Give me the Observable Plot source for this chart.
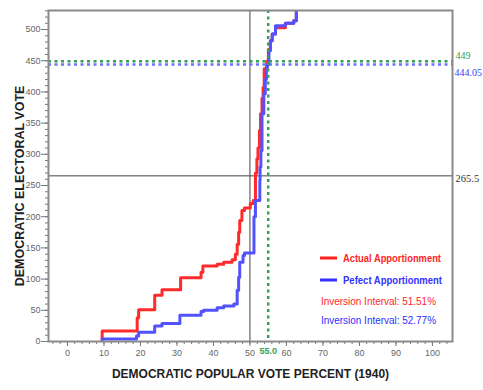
<!DOCTYPE html>
<html>
<head>
<meta charset="utf-8">
<script src="https://cdn.jsdelivr.net/npm/d3@7"></script>
<script src="https://cdn.jsdelivr.net/npm/@observablehq/plot@0.6"></script>
<style>
  html, body { margin: 0; padding: 0; background: #fff; }
  #chart { width: 483px; height: 390px; }
  #chart svg { overflow: visible; }
</style>
</head>
<body>
<div id="chart"></div>
<script>
// Cumulative Democratic electoral votes as the popular vote share rises (1940)
const actualPct = [9.5, 9.5, 19.1, 19.5, 23.9, 25.9, 31.0, 36.6, 37.1, 41.0, 42.8, 45.1, 46.0, 46.5, 46.9, 47.2, 47.8, 48.5, 50.1, 50.9, 51.51, 51.9, 52.2, 52.6, 52.9, 53.3, 53.6, 53.9, 54.6, 55.05, 55.6, 56.1, 57.0, 59.7, 62.0, 62.7];
const actualEV  = [0, 17, 38, 51, 74, 83, 102, 111, 121, 124, 127, 131, 140, 156, 175, 194, 210, 214, 221, 226, 270, 293, 310, 338, 365, 390, 407, 437, 449, 468, 482, 493, 503, 510, 514, 531];

const perfectPct = [9.5, 9.5, 18.9, 19.5, 23.9, 25.9, 30.8, 36.6, 37.3, 41.0, 42.8, 45.6, 46.5, 46.9, 47.2, 48.1, 48.5, 51.1, 51.5, 52.7, 52.77, 53.0, 53.3, 53.8, 54.2, 54.5, 54.8, 55.2, 55.6, 56.1, 57.0, 59.7, 62.0, 62.7];
const perfectEV  = [0, 4, 9, 15, 25, 29, 42, 48, 50, 54, 57, 60, 82, 103, 127, 138, 142, 200, 226, 258, 280, 306, 365, 397, 420, 440, 444.05, 466, 482, 493, 506, 510, 514, 531];

// Reference values
const majorityEV = 265.5;
const evenVote = 50;
const actualVote = 55.0;
const actualResultEV = 449;
const perfectResultEV = 444.05;

const xTicks = d3.range(0, 101, 10);
const xMinor = d3.range(-4, 105, 2);
const yTicks = d3.range(0, 501, 50);
const yMinor = d3.range(0, 531, 10);

const legendItems = [
  {label: "Actual Apportionment", color: "#ff1f1f", line: true},
  {label: "Pefect Apportionment", color: "#3333ff", line: true},
  {label: "Inversion Interval: 51.51%", color: "#ff1f1f", line: false},
  {label: "Inversion Interval: 52.77%", color: "#2d2dff", line: false}
];

const actual = actualPct.map((x, i) => ({x, y: actualEV[i]}));
const perfect = perfectPct.map((x, i) => ({x, y: perfectEV[i]}));

const RED = "#ff2b2b", BLUE = "#5252ff", GREEN = "#35a055";
const sans = "'Liberation Sans', Arial, sans-serif";
const serif = "'Liberation Serif', 'Times New Roman', serif";

const plot = Plot.plot({
  width: 483,
  height: 390,
  marginLeft: 48,
  marginRight: 31,
  marginTop: 10,
  marginBottom: 49,
  style: {fontFamily: sans, fontSize: "9px", background: "#fff"},
  x: {domain: [-5.2, 105.5], label: null},
  y: {domain: [0, 530.5], label: null},
  marks: [
    Plot.axisX(xMinor, {tickSize: 3, text: null, stroke: "#777"}),
    Plot.axisX(xTicks, {tickSize: 5, tickPadding: 3, fill: "#666", stroke: "#777", label: null}),
    Plot.axisY(yMinor, {tickSize: 3, text: null, stroke: "#777"}),
    Plot.axisY(yTicks, {tickSize: 7, tickPadding: 1, fill: "#666", stroke: "#777", label: null}),
    Plot.ruleX([evenVote], {stroke: "#444", strokeWidth: 1}),
    Plot.ruleY([majorityEV], {stroke: "#444", strokeWidth: 1}),
    Plot.line(actual, {x: "x", y: "y", curve: "step-after", stroke: RED, strokeWidth: 3, clip: true}),
    Plot.line(perfect, {x: "x", y: "y", curve: "step-after", stroke: BLUE, strokeWidth: 3, clip: true}),
    Plot.ruleY([actualResultEV], {stroke: GREEN, strokeWidth: 2.5, strokeDasharray: "3,3.5"}),
    Plot.ruleY([perfectResultEV], {stroke: "#7070ff", strokeWidth: 2.5, strokeDasharray: "3,3.5"}),
    Plot.ruleX([actualVote], {stroke: GREEN, strokeWidth: 2.5, strokeDasharray: "3,3.5"}),
    Plot.frame({stroke: "#8a8a8a", strokeWidth: 2}),
    // value labels at the right edge
    Plot.text([actualResultEV], {y: d => d, text: d => String(d), frameAnchor: "right", textAnchor: "start", dx: 3, dy: -6, fill: GREEN, fontFamily: serif, fontSize: 10}),
    Plot.text([perfectResultEV], {y: d => d, text: d => d.toFixed(2), frameAnchor: "right", textAnchor: "start", dx: 2, dy: 8, fill: "#3a3aff", fontFamily: serif, fontSize: 10}),
    Plot.text([majorityEV], {y: d => d, text: d => d.toFixed(1), frameAnchor: "right", textAnchor: "start", dx: 3, dy: 3, fill: "#333", fontFamily: serif, fontSize: 10.5}),
    // actual popular vote on the x axis
    Plot.text([actualVote], {x: d => d, text: d => d.toFixed(1), frameAnchor: "bottom", dy: 12, fill: GREEN, fontWeight: "bold"}),
    // axis titles
    Plot.text(["DEMOCRATIC POPULAR VOTE PERCENT (1940)"], {frameAnchor: "bottom", dy: 36, fontWeight: "bold", fontSize: 12, fill: "#222"}),
    Plot.text(["DEMOCRATIC ELECTORAL VOTE"], {frameAnchor: "left", textAnchor: "middle", dx: -29, dy: 10, rotate: -90, fontWeight: "bold", fontSize: 12.5, fill: "#222"})
  ]
});

// Legend inside the lower-right of the plot area
const svg = d3.select(plot);
const lg = svg.append("g").attr("font-family", sans).attr("text-anchor", "start");
const rowY = [258, 280, 301, 320];
const rowW = [98, 99, 115, 115];
legendItems.forEach((d, i) => {
  if (d.line) {
    lg.append("line").attr("x1", 320).attr("x2", 337).attr("y1", rowY[i]).attr("y2", rowY[i])
      .attr("stroke", d.color).attr("stroke-width", 3);
  }
  lg.append("text").attr("x", d.line ? 343 : 321).attr("y", rowY[i]).attr("dy", "0.35em")
    .attr("text-anchor", "start")
    .attr("fill", d.color).attr("font-size", 11)
    .attr("font-weight", d.line ? "bold" : "normal")
    .attr("textLength", rowW[i]).attr("lengthAdjust", "spacingAndGlyphs")
    .text(d.label);
});

document.getElementById("chart").appendChild(plot);
</script>
</body>
</html>
